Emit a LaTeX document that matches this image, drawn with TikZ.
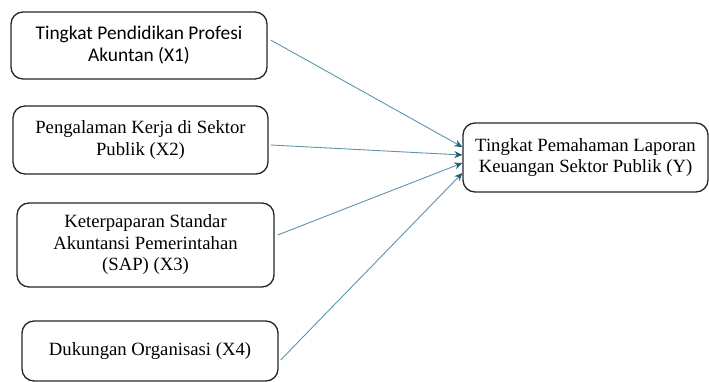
\documentclass[tikz,border=0pt]{standalone}
\usepackage{fontspec}
\setmainfont{Liberation Serif}
\newfontfamily\calibrifont{Carlito}
\usetikzlibrary{arrows.meta}
\definecolor{linkblue}{RGB}{92,150,172}
\definecolor{tipblue}{RGB}{28,96,122}
\begin{document}
\begin{tikzpicture}[x = 1pt, y = -1pt,
        box/.style = {draw = black!85, line width = 1.3pt, rounded corners = 12pt, align = center,
            font = \fontsize{18.7}{21.5}\selectfont},
        link/.style = {draw = linkblue, line width = 0.9pt,
            -{Stealth[length = 8pt, width = 7pt, color = tipblue, fill = tipblue]}}
    ]
        \useasboundingbox (0, 0) rectangle (709, 382);

        \node [box, minimum width = 256pt, minimum height = 67pt, font = \calibrifont\fontsize{19.4}{22}\selectfont]
            (x1) at (139, 45.5) {Tingkat Pendidikan Profesi\\Akuntan (X1)};
        \node [box, minimum width = 255pt, minimum height = 68pt] (x2) at (140.5, 140) {Pengalaman Kerja di Sektor\\Publik (X2)};
        \node [box, minimum width = 257pt, minimum height = 84pt] (x3) at (145.5, 245) {Keterpaparan Standar\\Akuntansi Pemerintahan\\(SAP) (X3)};
        \node [box, minimum width = 256pt, minimum height = 60pt] (x4) at (150, 351) {Dukungan Organisasi (X4)};
        \node [box, minimum width = 245pt, minimum height = 69pt] (y) at (585.5, 157.5) {Tingkat Pemahaman Laporan\\Keuangan Sektor Publik (Y)};

        \path
            ([xshift = 3pt, yshift = 5.5pt] x1.east) edge [link] ([yshift = 10.5pt] y.west)
            ([xshift = 2pt, yshift = -5pt] x2.east) edge [link] ([yshift = 2.5pt] y.west)
            ([xshift = 3pt, yshift = 10pt] x3.east) edge [link] ([yshift = -5.5pt] y.west)
            ([xshift = 2pt, yshift = -9pt] x4.east) edge [link] ([yshift = -15.5pt] y.west)
        ;
    \end{tikzpicture}
\end{document}
